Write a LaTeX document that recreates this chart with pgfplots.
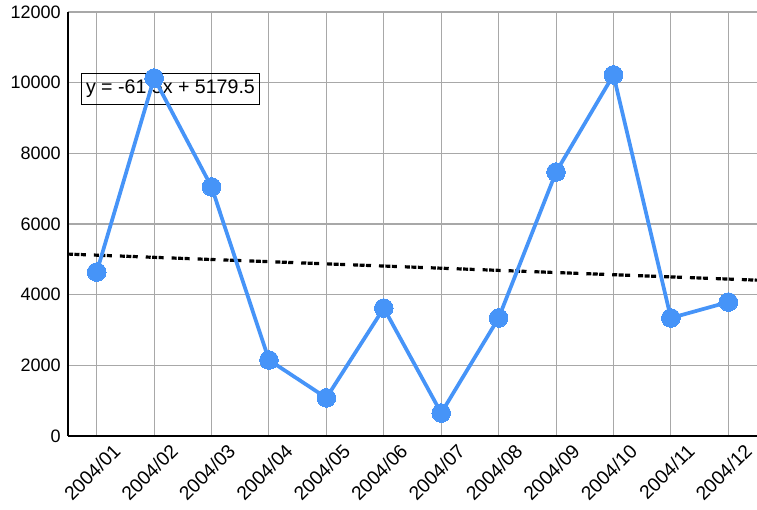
\documentclass[border=0pt]{standalone}
\usepackage{fontspec}
\setmainfont{Liberation Sans}
\usepackage{pgfplots}
\pgfplotsset{compat=1.18}
\definecolor{sblue}{HTML}{4694F8}
\definecolor{gridgray}{HTML}{A8A8A8}
\begin{document}
\begin{tikzpicture}
\begin{axis}[
    scale only axis,
    width=516.75pt, height=318pt,
    xmin=-0.5, xmax=11.5,
    ymin=0, ymax=12000,
    xtick={0,...,11},
    xticklabels={2004/01,2004/02,2004/03,2004/04,2004/05,2004/06,2004/07,2004/08,2004/09,2004/10,2004/11,2004/12},
    ytick={0,2000,...,12000},
    scaled y ticks=false,
    /pgf/number format/.cd, assume math mode=true, set thousands separator={}, 1000 sep={},
    /pgfplots/.cd,
    axis x line*=bottom, axis y line*=left,
    axis line style={black, line width=2pt, -},
    major tick length=0pt,
    grid=major,
    grid style={gridgray, line width=0.8pt},
    yticklabel style={font=\fontsize{13.5pt}{15pt}\selectfont, xshift=-2pt},
    xticklabel style={font=\fontsize{14.5pt}{16pt}\selectfont, rotate=45, anchor=north east, xshift=8pt, yshift=-8pt},
    clip=false,
]
\node[draw=black, line width=0.8pt, anchor=west, inner xsep=3.2pt, inner ysep=5pt, font=\fontsize{14.7pt}{16pt}\selectfont]
  at (axis cs:-0.27,9820) {y = -61.5x + 5179.5};
\addplot[black, line width=2.4pt, dash pattern=on 3.75pt off 1.1pt on 3.75pt off 1.1pt on 3.75pt off 6pt]
  coordinates {(-0.5,5148.75) (11.5,4410.75)};
\addplot[sblue, line width=2.8pt, mark=*, mark size=7pt, mark options={fill=sblue, draw=sblue, line width=0pt}]
  coordinates {
    (0,4640) (1,10130) (2,7050) (3,2150) (4,1080) (5,3620)
    (6,650) (7,3340) (8,7470) (9,10220) (10,3340) (11,3790)
  };
\end{axis}
\pgfresetboundingbox
\path[use as bounding box] ([xshift=-51pt,yshift=-55.5pt]current axis.south west) rectangle ([yshift=9pt]current axis.north east);
\end{tikzpicture}
\end{document}
